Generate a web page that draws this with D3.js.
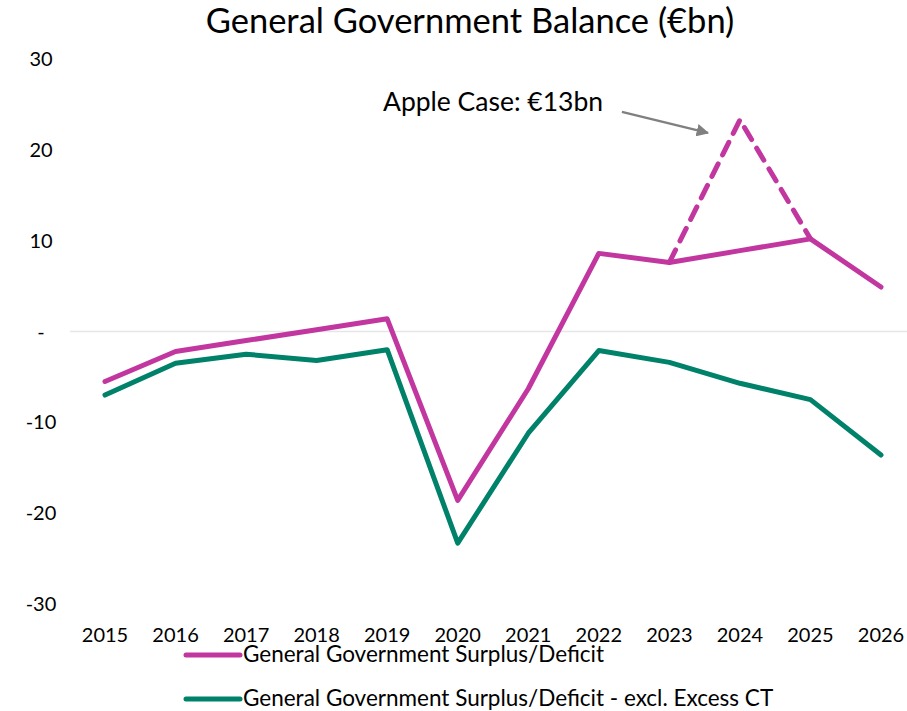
<!DOCTYPE html>
<html>
<head>
    <meta charset="utf-8">
    <title>General Government Balance</title>
    <script src="https://cdn.jsdelivr.net/npm/d3@7"></script>
    <style>
        body { margin: 0; background: #fff; }
        svg { display: block; font-family: Lato, "Open Sans", sans-serif; }
    </style>
</head>
<body>
<svg width="907" height="711"></svg>
<script>

var years = [2015, 2016, 2017, 2018, 2019, 2020, 2021, 2022, 2023, 2024, 2025, 2026],
    balance = [-5.5, -2.2, -1.0, 0.2, 1.4, -18.6, -6.3, 8.6, 7.6, 8.9, 10.2, 4.9],
    exclExcessCT = [-7.0, -3.5, -2.5, -3.2, -2.0, -23.3, -11.2, -2.1, -3.4, -5.7, -7.5, -13.6],
    appleYears = [2023, 2024, 2025],
    appleCase = [7.6, 23.3, 10.2],
    yTicks = [-30, -20, -10, 0, 10, 20, 30];

var pink = '#c236a0',
    green = '#00816a';

var svg = d3.select('svg');

var x = d3.scalePoint().domain(years).range([105, 881]),
    y = d3.scaleLinear().domain([-30, 30]).range([604, 59]);

// title
svg.append('text')
    .attr('x', 470).attr('y', 33)
    .attr('text-anchor', 'middle')
    .style('font-size', '34.5px')
    .text('General Government Balance (€bn)');

// zero line
svg.append('line')
    .attr('x1', 70).attr('x2', 907)
    .attr('y1', y(0)).attr('y2', y(0))
    .attr('stroke', '#e6e6e6').attr('stroke-width', 1.5);

// y axis labels
svg.append('g')
    .selectAll('text')
    .data(yTicks)
    .enter().append('text')
    .attr('x', 41)
    .attr('y', function (d) { return y(d); })
    .attr('dy', '0.35em')
    .attr('text-anchor', 'middle')
    .style('font-size', '20px')
    .text(function (d) { return d === 0 ? '-' : d; });

// x axis labels
svg.append('g')
    .selectAll('text')
    .data(years)
    .enter().append('text')
    .attr('x', function (d) { return x(d); })
    .attr('y', 642)
    .attr('text-anchor', 'middle')
    .style('font-size', '20px')
    .text(function (d) { return d; });

var line = d3.line()
    .x(function (d) { return x(d[0]); })
    .y(function (d) { return y(d[1]); });

// apple case dashed
svg.append('path')
    .datum(appleYears.map(function (d, i) { return [d, appleCase[i]]; }))
    .attr('d', line)
    .attr('fill', 'none')
    .attr('stroke', pink)
    .attr('stroke-width', 5)
    .attr('stroke-dasharray', '14,10')
    .attr('stroke-linecap', 'round');

svg.append('path')
    .datum(years.map(function (d, i) { return [d, exclExcessCT[i]]; }))
    .attr('d', line)
    .attr('fill', 'none')
    .attr('stroke', green)
    .attr('stroke-width', 5)
    .attr('stroke-linejoin', 'round')
    .attr('stroke-linecap', 'round');

svg.append('path')
    .datum(years.map(function (d, i) { return [d, balance[i]]; }))
    .attr('d', line)
    .attr('fill', 'none')
    .attr('stroke', pink)
    .attr('stroke-width', 5)
    .attr('stroke-linejoin', 'round')
    .attr('stroke-linecap', 'round');

// annotation
svg.append('defs').append('marker')
    .attr('id', 'arrow')
    .attr('viewBox', '0 0 10 10')
    .attr('refX', 9).attr('refY', 5)
    .attr('markerWidth', 5).attr('markerHeight', 5)
    .attr('orient', 'auto')
    .append('path')
    .attr('d', 'M0,0 L10,5 L0,10 z')
    .attr('fill', '#808080');

var peakX = x(2024), peakY = y(23.3);
svg.append('line')
    .attr('x1', peakX - 118).attr('y1', peakY - 8)
    .attr('x2', peakX - 32).attr('y2', peakY + 13)
    .attr('stroke', '#808080').attr('stroke-width', 2.5)
    .attr('marker-end', 'url(#arrow)');

svg.append('text')
    .attr('x', 383).attr('y', 111)
    .style('font-size', '26.5px')
    .text('Apple Case: €13bn');

// legend
var legend = [
    {label: 'General Government Surplus/Deficit', color: pink, y: 655},
    {label: 'General Government Surplus/Deficit - excl. Excess CT', color: green, y: 699}
];

var lg = svg.append('g').selectAll('g')
    .data(legend)
    .enter().append('g');

lg.append('line')
    .attr('x1', 186).attr('x2', 240)
    .attr('y1', function (d) { return d.y; })
    .attr('y2', function (d) { return d.y; })
    .attr('stroke', function (d) { return d.color; })
    .attr('stroke-width', 5)
    .attr('stroke-linecap', 'round');

lg.append('text')
    .attr('x', 243)
    .attr('y', function (d) { return d.y + 7; })
    .style('font-size', '22.5px')
    .text(function (d) { return d.label; });

</script>
</body>
</html>
